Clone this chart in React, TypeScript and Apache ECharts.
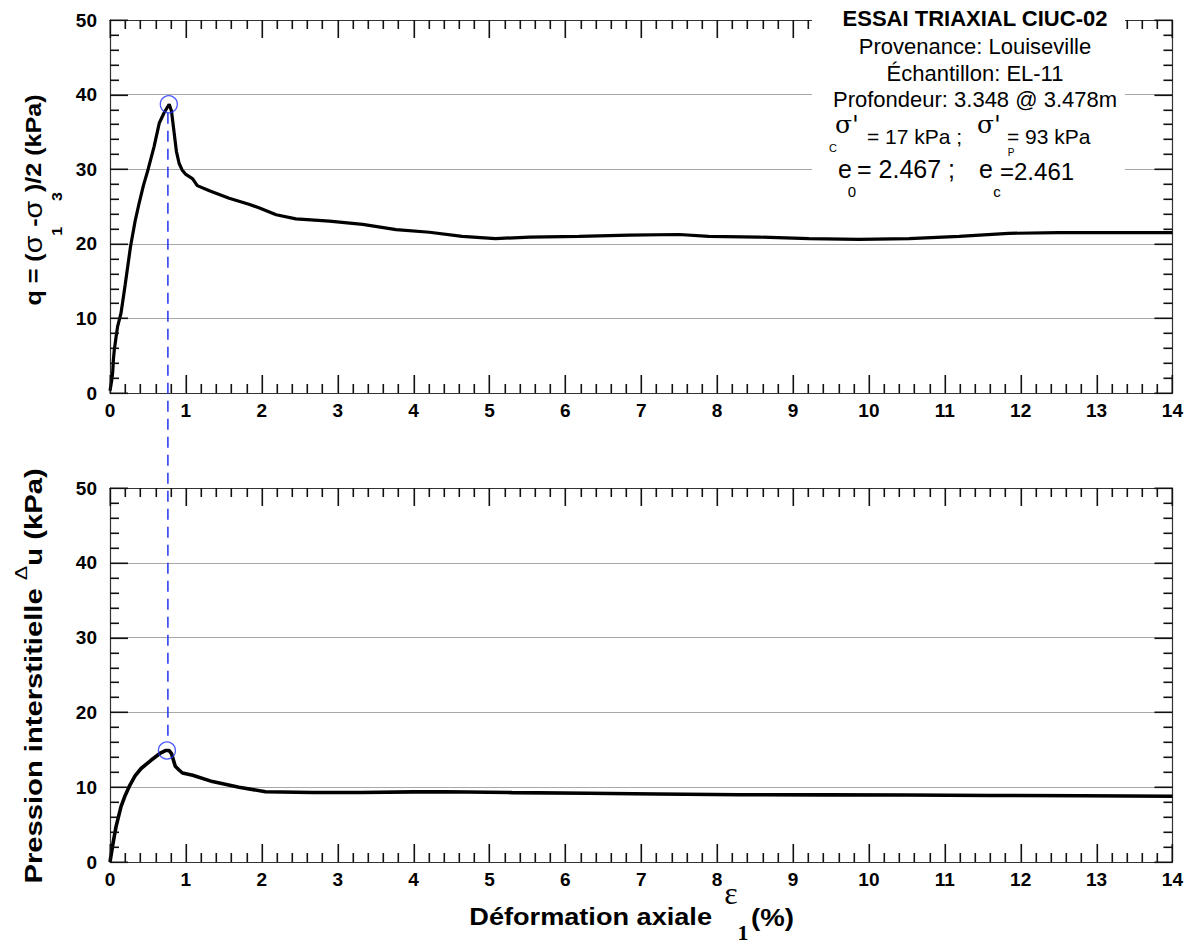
import React, { useEffect, useRef } from "react";
import * as echarts from "echarts";

// ---- Data ----
const qStrain = [0, 0.02, 0.035, 0.045, 0.057, 0.08, 0.1, 0.145, 0.2, 0.27, 0.33, 0.385, 0.44, 0.5, 0.58, 0.65, 0.71, 0.75, 0.78, 0.81, 0.845, 0.875, 0.91, 0.95, 1.0, 1.09, 1.15, 1.31, 1.57, 1.83, 1.97, 2.19, 2.45, 2.89, 3.33, 3.77, 4.21, 4.64, 5.08, 5.53, 6.18, 6.84, 7.5, 7.89, 8.55, 9.21, 9.87, 10.53, 11.19, 11.84, 12.5, 13.2, 14.0];
const qValues = [0.3, 1.5, 2.7, 4.5, 5.8, 7.5, 8.9, 10.7, 14.5, 19.6, 23.0, 25.5, 27.8, 29.9, 33.0, 36.2, 37.5, 38.2, 38.7, 37.8, 34.9, 32.4, 30.8, 29.9, 29.3, 28.7, 27.8, 27.1, 26.1, 25.3, 24.8, 23.9, 23.35, 23.05, 22.6, 21.9, 21.55, 21.0, 20.7, 20.9, 21.0, 21.15, 21.25, 21.0, 20.9, 20.7, 20.6, 20.7, 21.0, 21.4, 21.5, 21.5, 21.5];

const uStrain = [0, 0.04, 0.079, 0.145, 0.2, 0.254, 0.33, 0.41, 0.54, 0.67, 0.73, 0.78, 0.81, 0.86, 0.91, 0.955, 1.09, 1.35, 1.7, 2.05, 2.67, 3.3, 4.0, 4.42, 5.3, 6.3, 7.2, 8.3, 9.43, 10.5, 11.6, 12.8, 14.0];
const uValues = [0, 2.5, 4.7, 7.4, 8.9, 10.1, 11.5, 12.5, 13.6, 14.6, 14.9, 14.9, 14.5, 12.8, 12.3, 11.9, 11.6, 10.75, 10.0, 9.4, 9.3, 9.3, 9.37, 9.4, 9.28, 9.2, 9.1, 9.0, 8.98, 8.95, 8.9, 8.85, 8.8];

const peakQ = [0.775, 38.7];
const peakU = [0.75, 14.9];
const dashStrain = 0.763;

const xMin = 0, xMax = 14, xStep = 1, xMinorStep = 0.2;
const yMin = 0, yMax = 50, yStep = 10, yMinorStep = 2;

const infoLines = [
  "ESSAI TRIAXIAL CIUC-02",
  "Provenance: Louiseville",
  "Échantillon: EL-11",
  "Profondeur: 3.348 @ 3.478m",
];

const FONT = "Liberation Sans";
const AXIS_COLOR = "#333";
const TICK_COLOR = "#111";

function zip(a: number[], b: number[]) {
  return a.map((v, i) => [v, b[i]]);
}

function steps(min: number, max: number, step: number) {
  const out: number[] = [];
  const n = Math.round((max - min) / step);
  for (let i = 0; i <= n; i++) out.push(+(min + i * step).toFixed(6));
  return out;
}

const xTicks = steps(xMin, xMax, xMinorStep);
const yTicks = steps(yMin, yMax, yMinorStep);
const isMajor = (v: number, step: number) => Math.abs(v / step - Math.round(v / step)) < 1e-6;

function tickSeries(g: number, axis: "x" | "y") {
  return {
    type: "custom",
    coordinateSystem: "cartesian2d",
    xAxisIndex: g * 2,
    yAxisIndex: g * 2,
    silent: true,
    clip: false,
    z: 4,
    data: axis === "x" ? xTicks.map((v) => [v, yMin]) : yTicks.map((v) => [xMin, v]),
    renderItem: (_params: any, api: any) => {
      if (axis === "x") {
        const v = api.value(0);
        const len = isMajor(v, xStep) ? 18 : 9;
        const pb = api.coord([v, yMin]);
        const pt = api.coord([v, yMax]);
        const x = Math.round(pb[0]);
        return {
          type: "group",
          children: [
            { type: "rect", shape: { x: x - 0.5, y: pb[1] - len, width: 1.6, height: len }, style: { fill: TICK_COLOR } },
            { type: "rect", shape: { x: x - 0.5, y: pt[1], width: 1.6, height: len }, style: { fill: TICK_COLOR } },
          ],
        };
      }
      const v = api.value(1);
      const len = isMajor(v, yStep) ? 18 : 9;
      const pl = api.coord([xMin, v]);
      const pr = api.coord([xMax, v]);
      const y = Math.round(pl[1]);
      return {
        type: "group",
        children: [
          { type: "rect", shape: { x: pl[0], y: y - 0.5, width: len, height: 1.6 }, style: { fill: TICK_COLOR } },
          { type: "rect", shape: { x: pr[0] - len, y: y - 0.5, width: len, height: 1.6 }, style: { fill: TICK_COLOR } },
        ],
      };
    },
  };
}

export default function App() {
  const ref = useRef<HTMLDivElement>(null);

  useEffect(() => {
    if (!ref.current) return;
    const chart = echarts.init(ref.current, undefined, { renderer: "svg" });

    const grids = [
      { left: 110, top: 20, width: 1063, height: 373 },
      { left: 110, top: 488, width: 1063, height: 374 },
    ];

    const xAxisBase = (gridIndex: number, position: "top" | "bottom") => ({
      gridIndex,
      type: "value" as const,
      min: xMin,
      max: xMax,
      interval: xStep,
      position,
      axisLine: { show: true, onZero: false, lineStyle: { color: AXIS_COLOR, width: 1.2 } },
      axisTick: { show: false },
      minorTick: { show: false },
      axisLabel: {
        show: position === "bottom",
        fontFamily: FONT,
        fontWeight: "bold" as const,
        fontSize: 19,
        color: "#000",
        margin: 8,
      },
      splitLine: { show: false },
    });

    const yAxisBase = (gridIndex: number, position: "left" | "right") => ({
      gridIndex,
      type: "value" as const,
      min: yMin,
      max: yMax,
      interval: yStep,
      position,
      axisLine: { show: true, onZero: false, lineStyle: { color: AXIS_COLOR, width: 1.2 } },
      axisTick: { show: false },
      minorTick: { show: false },
      axisLabel: {
        show: position === "left",
        fontFamily: FONT,
        fontWeight: "bold" as const,
        fontSize: 19,
        color: "#000",
        margin: 13,
      },
      splitLine: { show: position === "left", lineStyle: { color: "#a8a8a8", width: 1 } },
    });

    chart.setOption({
      animation: false,
      backgroundColor: "#fff",
      grid: grids,
      xAxis: [xAxisBase(0, "bottom"), xAxisBase(0, "top"), xAxisBase(1, "bottom"), xAxisBase(1, "top")],
      yAxis: [yAxisBase(0, "left"), yAxisBase(0, "right"), yAxisBase(1, "left"), yAxisBase(1, "right")],
      series: [
        tickSeries(0, "x"),
        tickSeries(0, "y"),
        tickSeries(1, "x"),
        tickSeries(1, "y"),
        {
          type: "line",
          xAxisIndex: 0,
          yAxisIndex: 0,
          data: zip(qStrain, qValues),
          showSymbol: false,
          smooth: false,
          lineStyle: { color: "#000", width: 3.2 },
          z: 3,
        },
        {
          type: "line",
          xAxisIndex: 2,
          yAxisIndex: 2,
          data: zip(uStrain, uValues),
          showSymbol: false,
          lineStyle: { color: "#000", width: 3.6 },
          z: 3,
        },
        {
          type: "scatter",
          xAxisIndex: 0,
          yAxisIndex: 0,
          data: [peakQ],
          symbol: "circle",
          symbolSize: 17,
          itemStyle: { color: "rgba(0,0,0,0)", borderColor: "#2233ff", borderWidth: 1.3 },
          z: 5,
        },
        {
          type: "scatter",
          xAxisIndex: 2,
          yAxisIndex: 2,
          data: [peakU],
          symbol: "circle",
          symbolSize: 17,
          itemStyle: { color: "rgba(0,0,0,0)", borderColor: "#2233ff", borderWidth: 1.3 },
          z: 5,
        },
      ],
    });

    const graphic: any[] = [];

    const pTop = chart.convertToPixel({ xAxisIndex: 0, yAxisIndex: 0 }, [dashStrain, peakQ[1]]) as number[];
    const pBot = chart.convertToPixel({ xAxisIndex: 2, yAxisIndex: 2 }, [dashStrain, peakU[1]]) as number[];

    graphic.push(
      {
        type: "line",
        shape: { x1: pTop[0], y1: pTop[1] + 8.5, x2: pTop[0], y2: pBot[1] - 8.5 },
        style: { stroke: "#2233ee", lineWidth: 1.5, lineDash: [11, 7] },
        z: 10,
      },
      {
        type: "rect",
        shape: { x: 812, y: 0, width: 313, height: 197 },
        style: { fill: "#fff" },
        z: 50,
      }
    );

    const cx = 975;
    const lineY = [18, 46, 73, 99];
    infoLines.forEach((t, i) => {
      graphic.push({
        type: "text",
        x: cx,
        y: lineY[i],
        z: 60,
        style: {
          text: t,
          fontFamily: FONT,
          fontSize: 22,
          fontWeight: i === 0 ? "bold" : "normal",
          fill: "#000",
          align: "center",
          verticalAlign: "middle",
        },
      });
    });
    const txt = (text: string, x: number, y: number, size: number, align = "center", family = FONT) => ({
      type: "text",
      x,
      y,
      z: 60,
      style: { text, fontFamily: family, fontSize: size, lineHeight: size * 0.8, fill: "#000", align, verticalAlign: "middle" },
    });
    graphic.push(
      txt("σ'", 847, 124, 25, "center", "DejaVu Serif"),
      txt("= 17 kPa ;", 867, 136, 21, "left"),
      txt("σ'", 989, 124, 25, "center", "DejaVu Serif"),
      txt("= 93 kPa", 1007, 136, 21, "left"),
      txt("C", 833, 148, 11),
      txt("P", 1011, 152, 10),
      txt("e", 845, 169, 25),
      txt("0", 852, 191, 15),
      txt("= 2.467 ;", 857, 169, 25, "left"),
      txt("e", 986, 169, 25),
      txt("c", 997, 191, 15),
      txt("=2.461", 1000, 171, 24, "left")
    );

    // y-axis titles (rotated)
    graphic.push({
      type: "text",
      x: 34,
      y: 200,
      rotation: Math.PI / 2,
      scaleX: 1.14,
      z: 60,
      style: {
        text: "{b|q = (}{g|σ}{sub|1}{b|-}{g|σ}{sub|3}{b|)/2 (kPa)}",
        align: "center",
        verticalAlign: "middle",
        rich: {
          b: { fontFamily: FONT, fontWeight: "bold", fontSize: 22, lineHeight: 60, fill: "#000" },
          g: { fontFamily: FONT, fontWeight: "normal", fontSize: 25, lineHeight: 60, fill: "#000" },
          sub: { fontFamily: FONT, fontWeight: "bold", fontSize: 14, lineHeight: 14, verticalAlign: "bottom", fill: "#000" },
        },
      },
    });
    graphic.push({
      type: "text",
      x: 34,
      y: 676,
      rotation: Math.PI / 2,
      scaleX: 1.27,
      z: 60,
      style: {
        text: "{b|Pression interstitielle }{d|Δ}{b|u (kPa)}",
        align: "center",
        verticalAlign: "middle",
        rich: {
          b: { fontFamily: FONT, fontWeight: "bold", fontSize: 23, lineHeight: 44, fill: "#000" },
          d: { fontFamily: FONT, fontWeight: "normal", fontSize: 17, lineHeight: 17, verticalAlign: "top", fill: "#000" },
        },
      },
    });

    // x-axis title
    graphic.push(
      {
        type: "text",
        x: 712,
        y: 917,
        scaleX: 1.18,
        z: 60,
        style: { text: "Déformation axiale", fontFamily: FONT, fontWeight: "bold", fontSize: 23, fill: "#000", align: "right", verticalAlign: "middle" },
      },
      {
        type: "text",
        x: 731,
        y: 893,
        z: 60,
        style: { text: "ε", fontFamily: "Liberation Serif", fontSize: 32, fill: "#000", align: "center", verticalAlign: "middle" },
      },
      {
        type: "text",
        x: 743,
        y: 932,
        z: 60,
        style: { text: "1", fontFamily: "Liberation Serif", fontWeight: "bold", fontSize: 22, fill: "#000", align: "center", verticalAlign: "middle" },
      },
      {
        type: "text",
        x: 751,
        y: 918,
        scaleX: 1.2,
        z: 60,
        style: { text: "(%)", fontFamily: FONT, fontWeight: "bold", fontSize: 23, fill: "#000", align: "left", verticalAlign: "middle" },
      }
    );

    chart.setOption({ graphic });

    return () => chart.dispose();
  }, []);

  return (
    <div
      ref={ref}
      style={{ position: "fixed", left: 0, top: 0, width: 1186, height: 944, background: "#fff" }}
    />
  );
}
